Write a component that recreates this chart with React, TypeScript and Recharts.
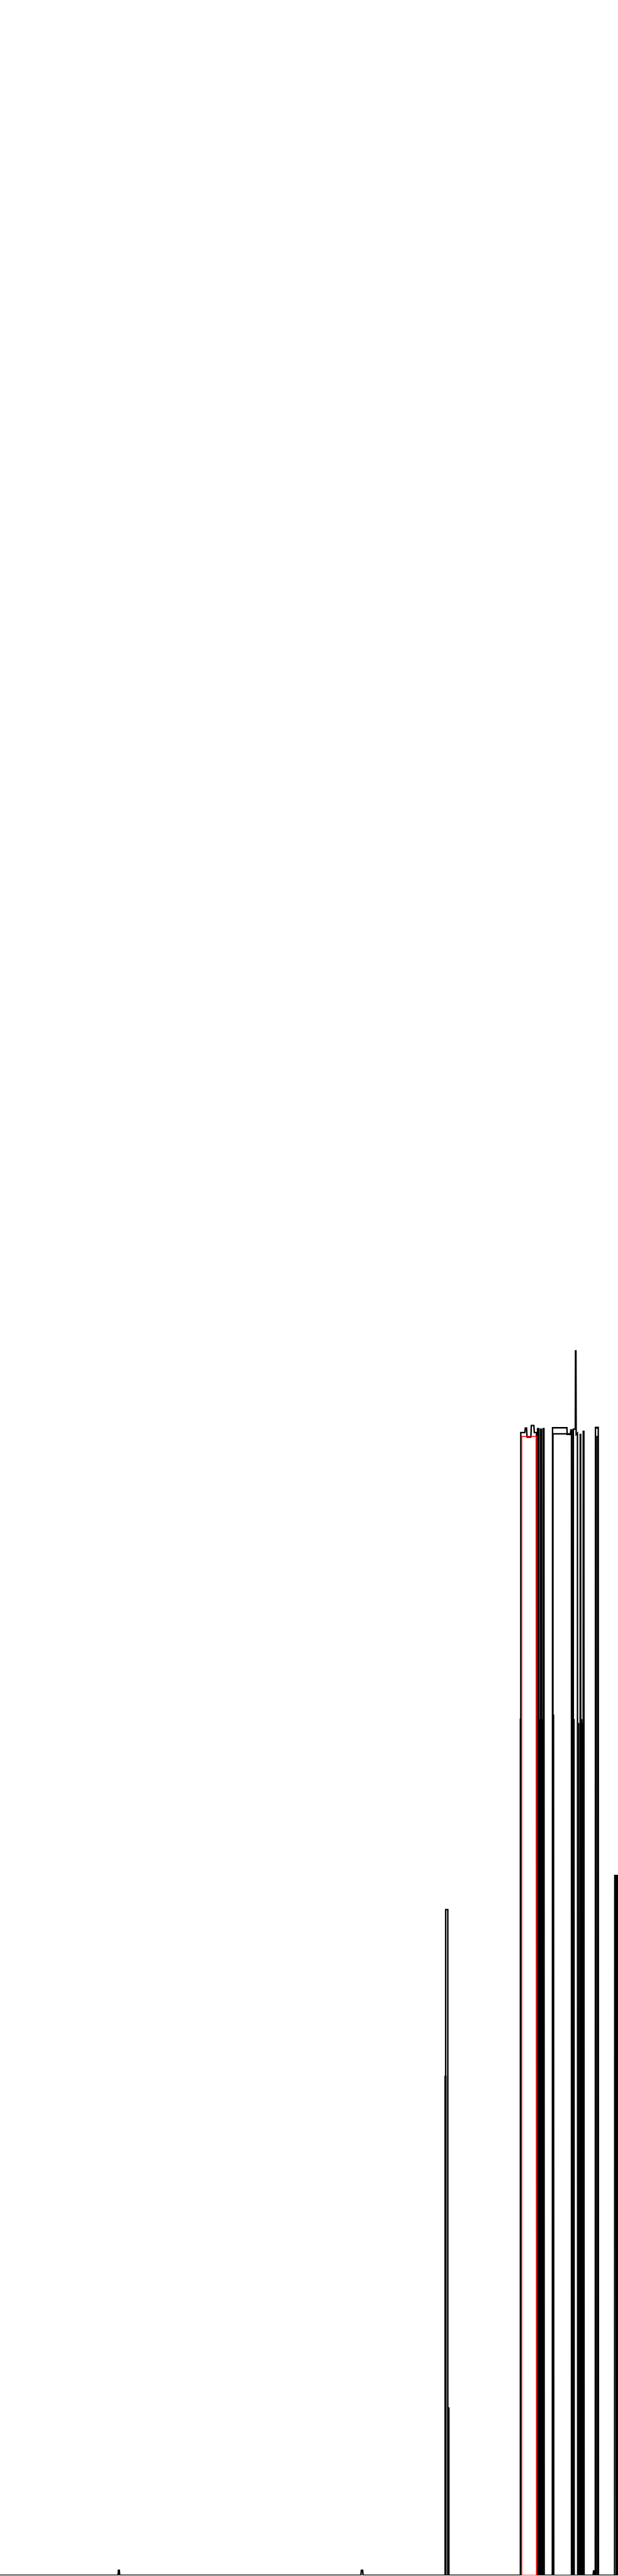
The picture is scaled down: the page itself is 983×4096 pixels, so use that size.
import React from "react";
import { LineChart, Line, XAxis, YAxis } from "recharts";

if (typeof document !== "undefined") {
  document.body.style.margin = "0";
}

// x: minute of day (0..1440), value: reading
const mainMinutes = [
  0, 275, 276, 278, 279, 841, 842, 845, 846,
  1038.5, 1038.5, 1043.5, 1043.5,
  1213.5, 1213.5, 1223, 1224, 1227, 1228, 1237, 1238, 1244, 1245, 1250, 1251,
  1252.5, 1252.5, 1255.5, 1255.5,
  1259, 1259.5, 1261.5, 1262,
  1265, 1265.5, 1267.5, 1268,
  1287, 1287.5, 1321, 1321.5, 1329, 1330, 1332.5, 1333,
  1335.5, 1336, 1340.5, 1341, 1342, 1342.5, 1345.5, 1346,
  1351.5, 1352, 1353, 1353.5,
  1358.5, 1359, 1360.5, 1361,
  1382, 1383, 1385, 1386,
  1387, 1387.5, 1390, 1390.5, 1392, 1392.5, 1394, 1394.5,
  1432, 1432.5, 1435.5, 1436, 1440,
];
const mainValues = [
  0, 0, 4, 4, 0, 0, 4, 4, 0,
  0, 517, 517, 0,
  0, 887.5, 887.5, 891, 891, 884, 884, 893, 893, 887.5, 887.5, 0,
  0, 890.5, 890.5, 0,
  0, 890, 890, 0,
  0, 890.5, 890.5, 0,
  0, 891.2, 891.2, 886, 886, 889.5, 889.5, 0,
  0, 890.2, 890.2, 951, 951, 886, 887, 0,
  0, 886, 886, 0,
  0, 888.5, 888.5, 0,
  0, 3.5, 3.5, 0,
  0, 891.5, 891.5, 891, 891, 891.5, 891.5, 0,
  0, 543.5, 543.5, 0, 0,
];

const secondMinutes = [
  1037, 1037, 1039, 1039, 1044.5, 1044.5, 1046, 1046,
  1212.5, 1212.5, 1213, 1230,
  1288.5, 1288.5, 1329, 1331.5, 1331.5,
  1337.5, 1337.5, 1338,
  1348.5, 1348.5, 1349.5,
  1355.5, 1355.5, 1357,
  1388.5, 1388.5, 1389,
  1438.5, 1438.5, 1440,
];
const secondValues = [
  0, 387.5, 387.5, 0, 0, 130, 130, 0,
  0, 665.5, 0, null,
  0, 886.5, 886.5, 886, 0,
  0, 665, 0,
  0, 662, 0,
  0, 665, 0,
  0, 885, 0,
  0, 543.5, 543.5,
];

const thirdMinutes = [
  1257.5, 1257.5, 1258, 1263.5, 1263.5, 1264,
  1290, 1290, 1290.5,
  1357.5, 1357.5, 1358,
  1392, 1392, 1393,
];
const thirdValues = [
  0, 665, 0, 0, 665, 0,
  0, 668.5, 0,
  0, 662, 0,
  0, 885, 0,
];

const highlightMinutes = [1215.5, 1215.5, 1250.5, 1250.5, 1215.5];
const highlightValues = [0, 884.5, 884.5, 0, 0];

const zip = (m: number[], v: (number | null)[]) =>
  m.map((minute, i) => ({ minute, value: v[i] }));

const mainData = zip(mainMinutes, mainValues);
const secondData = zip(secondMinutes, secondValues);
const thirdData = zip(thirdMinutes, thirdValues);
const highlightData = zip(highlightMinutes, highlightValues);

export default function App() {
  return (
    <div style={{ width: 983, height: 4096, background: "#ffffff" }}>
      <LineChart
        width={983}
        height={4096}
        margin={{ top: 0, right: 0, bottom: 1, left: 0 }}
      >
        <XAxis dataKey="minute" type="number" domain={[0, 1440]} hide allowDataOverflow />
        <YAxis type="number" domain={[0, 2000]} hide allowDataOverflow />
        <Line
          data={thirdData}
          dataKey="value"
          type="linear"
          stroke="#000000"
          strokeWidth={2}
          dot={false}
          activeDot={false}
          isAnimationActive={false}
        />
        <Line
          data={secondData}
          dataKey="value"
          type="linear"
          stroke="#000000"
          strokeWidth={2.2}
          dot={false}
          activeDot={false}
          connectNulls={false}
          isAnimationActive={false}
        />
        <Line
          data={mainData}
          dataKey="value"
          type="linear"
          stroke="#000000"
          strokeWidth={2.3}
          dot={false}
          activeDot={false}
          isAnimationActive={false}
        />
        <Line
          data={highlightData}
          dataKey="value"
          type="linear"
          stroke="#ff0000"
          strokeWidth={1.7}
          dot={false}
          activeDot={false}
          isAnimationActive={false}
        />
      </LineChart>
    </div>
  );
}
